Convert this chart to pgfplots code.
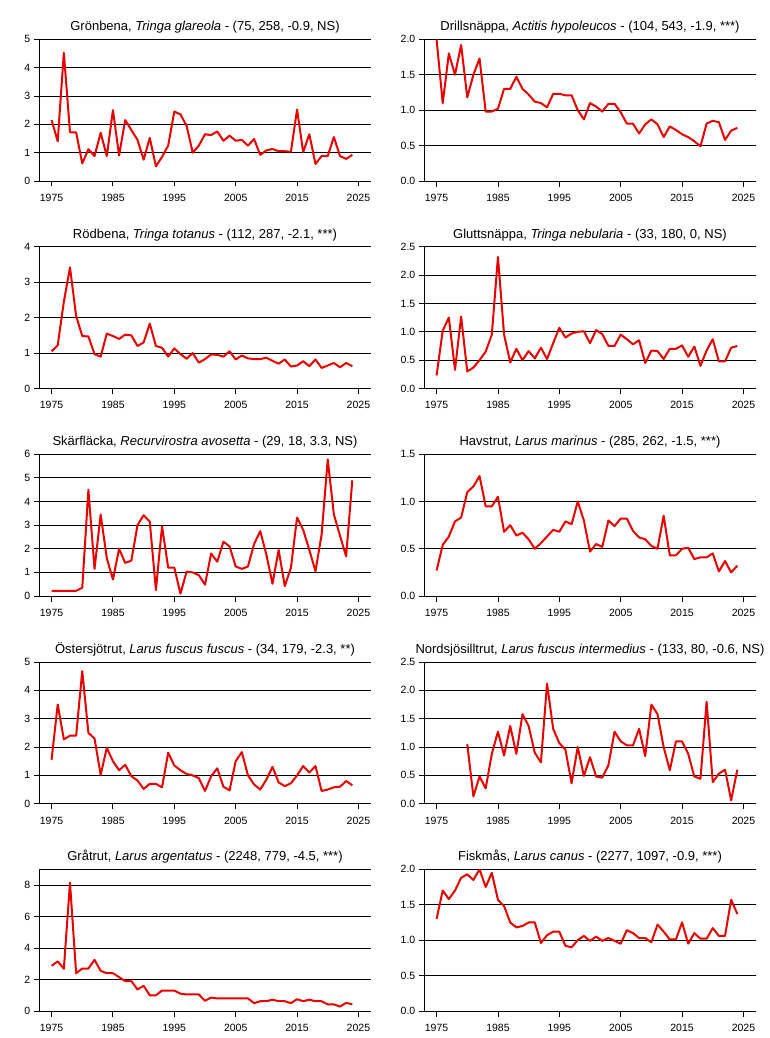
\documentclass[border=0pt]{standalone}
\usepackage{fontspec}
\setmainfont{Liberation Sans}
\usepackage{pgfplots}
\usepackage{pgfplotstable}
\pgfplotsset{compat=1.18}

\definecolor{trendred}{RGB}{230,0,0}

% index per year (1998 = 1)
\pgfplotstableread{
year gron drill rod  glutt skar hav  oster nord grat fisk
1975 2.15 2.00  1.05 0.23  0.22 0.27 1.55  nan  2.87 1.30
1976 1.40 1.10  1.22 1.02  0.22 0.54 3.50  nan  3.15 1.70
1977 4.52 1.80  2.45 1.25  0.22 0.63 2.27  nan  2.68 1.58
1978 1.72 1.50  3.42 0.33  0.22 0.79 2.40  nan  8.15 1.70
1979 1.72 1.92  2.05 1.27  0.22 0.83 2.40  nan  2.40 1.88
1980 0.62 1.18  1.48 0.30  0.35 1.10 4.68  1.05 2.70 1.93
1981 1.12 1.50  1.47 0.37  4.50 1.16 2.50  0.13 2.70 1.85
1982 0.88 1.73  0.97 0.50  1.15 1.27 2.30  0.48 3.25 2.00
1983 1.70 0.98  0.90 0.65  3.45 0.95 1.02  0.27 2.55 1.75
1984 0.88 0.98  1.55 0.95  1.60 0.95 1.97  0.88 2.40 1.95
1985 2.50 1.02  1.48 2.32  0.70 1.05 1.50  1.27 2.40 1.57
1986 0.90 1.30  1.40 0.95  2.00 0.68 1.18  0.85 2.15 1.48
1987 2.15 1.30  1.52 0.46  1.40 0.75 1.37  1.37 1.90 1.25
1988 1.80 1.47  1.50 0.70  1.50 0.64 0.97  0.88 1.90 1.18
1989 1.45 1.30  1.20 0.50  3.00 0.67 0.82  1.58 1.37 1.20
1990 0.75 1.22  1.30 0.66  3.42 0.60 0.52  1.37 1.60 1.25
1991 1.52 1.12  1.83 0.53  3.15 0.50 0.70  0.90 1.00 1.25
1992 0.52 1.10  1.20 0.72  0.25 0.56 0.70  0.73 1.00 0.96
1993 0.85 1.04  1.15 0.52  2.95 0.63 0.58  2.12 1.30 1.07
1994 1.25 1.23  0.90 0.80  1.20 0.70 1.80  1.32 1.30 1.12
1995 2.45 1.23  1.13 1.07  1.20 0.68 1.35  1.07 1.30 1.12
1996 2.35 1.21  0.97 0.90  0.10 0.79 1.18  0.95 1.10 0.92
1997 1.95 1.21  0.84 0.97  1.03 0.76 1.05  0.36 1.05 0.90
1998 1.00 1.00  1.00 1.00  1.00 1.00 1.00  1.00 1.05 1.00
1999 1.25 0.87  0.73 1.01  0.88 0.80 0.90  0.49 1.05 1.06
2000 1.65 1.10  0.83 0.80  0.48 0.47 0.45  0.82 0.65 0.99
2001 1.62 1.05  0.96 1.03  1.80 0.55 0.97  0.48 0.85 1.05
2002 1.75 0.98  0.95 0.96  1.45 0.52 1.25  0.46 0.80 0.99
2003 1.42 1.09  0.90 0.75  2.30 0.80 0.60  0.68 0.80 1.03
2004 1.60 1.09  1.05 0.75  2.10 0.74 0.47  1.27 0.80 0.99
2005 1.42 0.97  0.82 0.95  1.25 0.82 1.50  1.10 0.80 0.95
2006 1.45 0.81  0.93 0.87  1.15 0.82 1.82  1.03 0.80 1.14
2007 1.25 0.81  0.85 0.78  1.25 0.69 1.00  1.03 0.80 1.10
2008 1.48 0.67  0.83 0.85  2.20 0.62 0.68  1.32 0.50 1.03
2009 0.92 0.80  0.83 0.45  2.75 0.60 0.50  0.84 0.62 1.03
2010 1.08 0.87  0.87 0.67  1.75 0.53 0.85  1.75 0.62 0.97
2011 1.13 0.80  0.78 0.66  0.52 0.50 1.30  1.58 0.72 1.22
2012 1.05 0.62  0.70 0.52  1.95 0.85 0.75  1.00 0.62 1.12
2013 1.05 0.77  0.82 0.70  0.42 0.43 0.62  0.59 0.62 1.01
2014 1.03 0.72  0.62 0.70  1.20 0.43 0.72  1.10 0.50 1.01
2015 2.52 0.66  0.65 0.76  3.32 0.50 1.00  1.10 0.75 1.25
2016 1.02 0.62  0.77 0.56  2.80 0.51 1.33  0.88 0.62 0.95
2017 1.65 0.56  0.63 0.74  1.95 0.39 1.10  0.48 0.72 1.10
2018 0.60 0.49  0.82 0.40  1.05 0.41 1.33  0.44 0.62 1.02
2019 0.88 0.81  0.58 0.67  2.60 0.41 0.45  1.80 0.62 1.02
2020 0.88 0.85  0.65 0.87  5.78 0.45 0.50  0.38 0.42 1.17
2021 1.55 0.83  0.72 0.48  3.45 0.26 0.58  0.53 0.42 1.06
2022 0.88 0.58  0.60 0.48  2.55 0.37 0.60  0.60 0.28 1.06
2023 0.78 0.71  0.72 0.72  1.68 0.25 0.80  0.06 0.52 1.57
2024 0.92 0.75  0.63 0.75  4.90 0.32 0.65  0.60 0.42 1.37
}\birds

\pgfplotsset{
    panel/.style={
        scale only axis,
        width=331.4pt, height=141.7pt,
        anchor=north west,
        xmin=1973, xmax=2027, ymin=0,
        xtick={1975,1985,...,2025},
        axis x line*=box, axis y line*=left,
        xtick pos=left, ytick pos=left,
        tick align=outside,
        major tick length=5.5pt,
        ymajorgrids,
        grid style={black, line width=0.9pt},
        axis line style={black, line width=0.9pt, -},
        every tick/.style={black, line width=0.9pt},
        every axis title shift=0pt,
        title style={font=\fontsize{13}{15}\selectfont, anchor=base,
            at={(0.5,1)}, yshift=8.6pt},
        tick label style={font=\fontsize{10.5}{12}\selectfont},
        /pgf/number format/assume math mode=true,
        x tick label style={/pgf/number format/1000 sep={}, yshift=-4pt},
    },
    decimals/.style={
        y tick label style={/pgf/number format/.cd, fixed, fixed zerofill, precision=1},
    },
    trend/.style={trendred, line width=2pt, line join=round},
}

\begin{document}
\begin{tikzpicture}
\path[use as bounding box] (0pt,0pt) rectangle (769pt,-1038pt);

% row 1
\begin{axis}[panel, at={(39.3pt,-39.3pt)}, ymax=5, ytick={0,1,...,5},
    title={Grönbena, \textit{Tringa glareola} - (75, 258, -0.9, NS)}]
\addplot[trend] table[x=year, y=gron] {\birds};
\end{axis}
\begin{axis}[panel, decimals, at={(424.3pt,-39.3pt)}, ymax=2, ytick={0,0.5,...,2},
    title={Drillsnäppa, \textit{Actitis hypoleucos} - (104, 543, -1.9, ***)}]
\addplot[trend] table[x=year, y=drill] {\birds};
\end{axis}

% row 2
\begin{axis}[panel, at={(39.3pt,-246.8pt)}, ymax=4, ytick={0,1,...,4},
    title={Rödbena, \textit{Tringa totanus} - (112, 287, -2.1, ***)}]
\addplot[trend] table[x=year, y=rod] {\birds};
\end{axis}
\begin{axis}[panel, decimals, at={(424.3pt,-246.8pt)}, ymax=2.5, ytick={0,0.5,...,2.5},
    title={Gluttsnäppa, \textit{Tringa nebularia} - (33, 180, 0, NS)}]
\addplot[trend] table[x=year, y=glutt] {\birds};
\end{axis}

% row 3
\begin{axis}[panel, at={(39.3pt,-454.3pt)}, ymax=6, ytick={0,1,...,6},
    title={Skärfläcka, \textit{Recurvirostra avosetta} - (29, 18, 3.3, NS)}]
\addplot[trend] table[x=year, y=skar] {\birds};
\end{axis}
\begin{axis}[panel, decimals, at={(424.3pt,-454.3pt)}, ymax=1.5, ytick={0,0.5,...,1.5},
    title={Havstrut, \textit{Larus marinus} - (285, 262, -1.5, ***)}]
\addplot[trend] table[x=year, y=hav] {\birds};
\end{axis}

% row 4
\begin{axis}[panel, at={(39.3pt,-662.0pt)}, ymax=5, ytick={0,1,...,5},
    title={Östersjötrut, \textit{Larus fuscus fuscus} - (34, 179, -2.3, **)}]
\addplot[trend] table[x=year, y=oster] {\birds};
\end{axis}
\begin{axis}[panel, decimals, at={(424.3pt,-662.0pt)}, ymax=2.5, ytick={0,0.5,...,2.5},
    title={Nordsjösilltrut, \textit{Larus fuscus intermedius} - (133, 80, -0.6, NS)}]
\addplot[trend] table[x=year, y=nord] {\birds};
\end{axis}

% row 5
\begin{axis}[panel, at={(39.3pt,-869.3pt)}, ymax=9, ytick={0,2,...,8},
    title={Gråtrut, \textit{Larus argentatus} - (2248, 779, -4.5, ***)}]
\addplot[trend] table[x=year, y=grat] {\birds};
\end{axis}
\begin{axis}[panel, decimals, at={(424.3pt,-869.3pt)}, ymax=2, ytick={0,0.5,...,2},
    title={Fiskmås, \textit{Larus canus} - (2277, 1097, -0.9, ***)}]
\addplot[trend] table[x=year, y=fisk] {\birds};
\end{axis}

\end{tikzpicture}
\end{document}
